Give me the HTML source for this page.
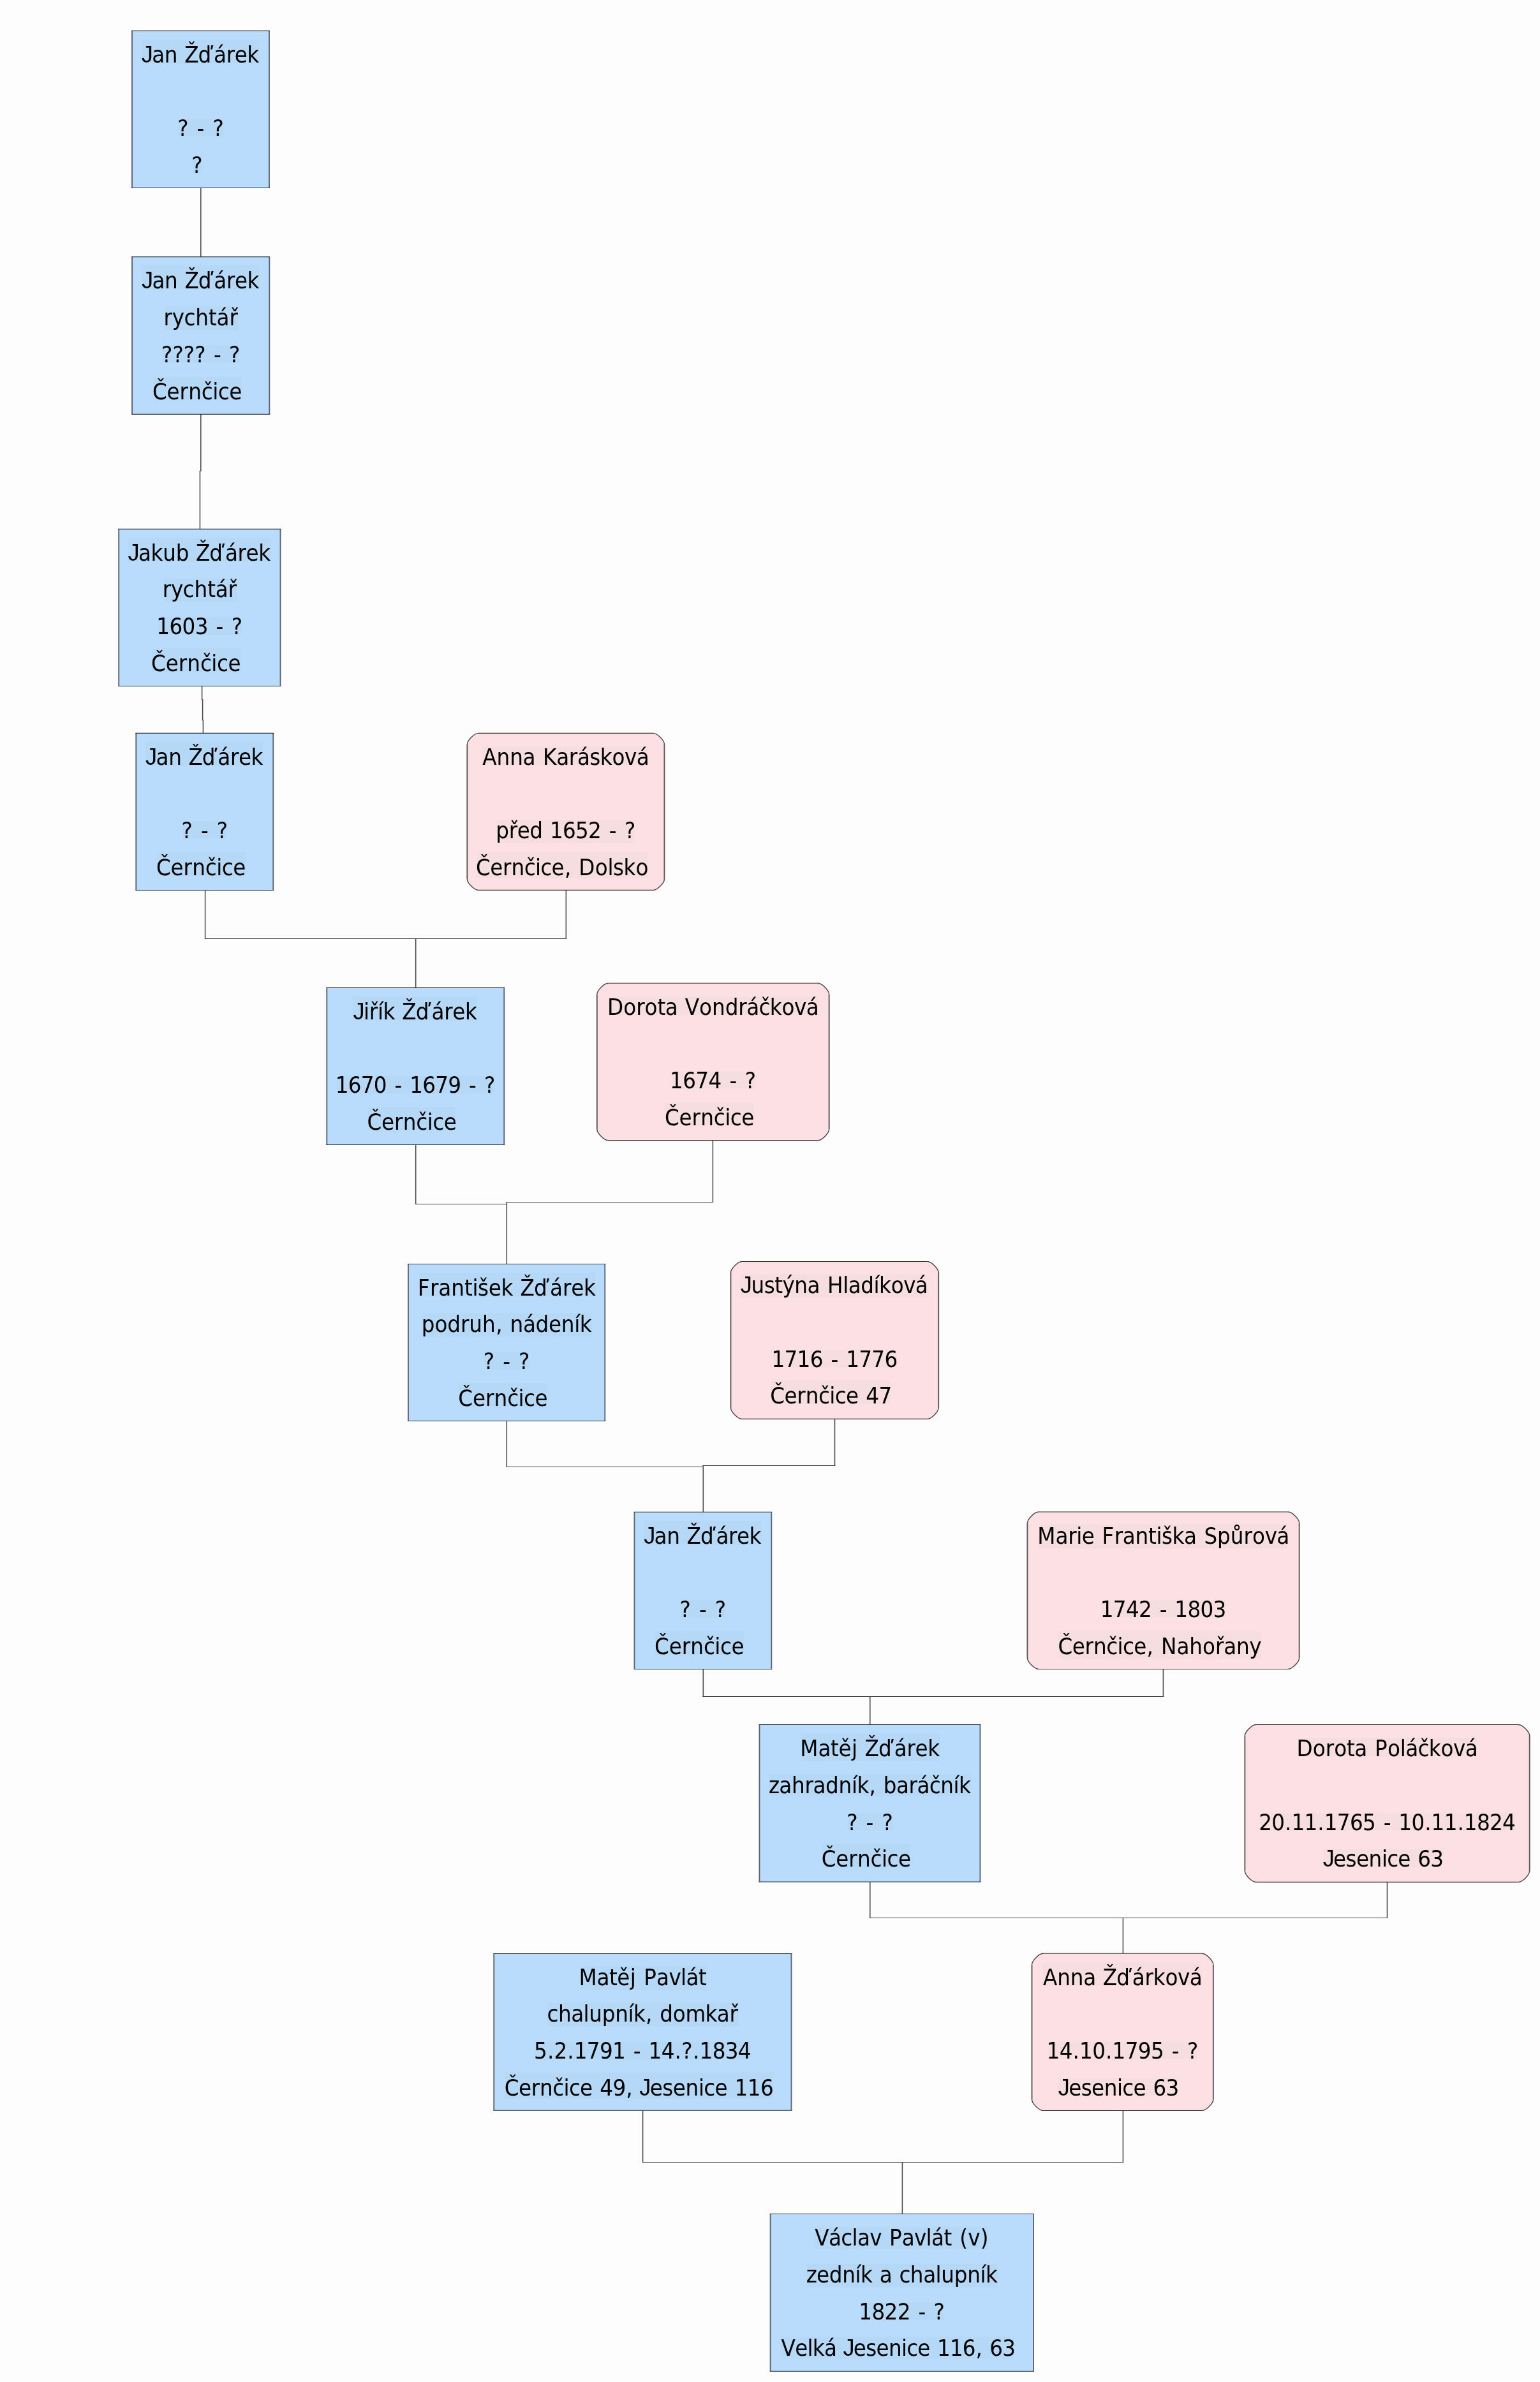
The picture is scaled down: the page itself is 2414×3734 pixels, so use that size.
<!DOCTYPE html>
<html lang="cs">
<head>
<meta charset="utf-8">
<title>Rodokmen – Žďárek / Pavlát</title>
<style>
html,body{margin:0;padding:0;background:#fdfdfd;}
body{width:2414px;height:3734px;overflow:hidden;}
svg{display:block;will-change:transform;}
text{font-family:"DejaVu Sans Condensed","DejaVu Sans","Liberation Sans",sans-serif;font-stretch:condensed;font-size:36.3px;fill:#000;}
.j{font-family:"Liberation Sans",sans-serif;font-stretch:normal;}
line,path.a{fill:none;stroke-linecap:butt;}
.bh{stroke:#2b323c;stroke-width:1.1;}
.bv{stroke:#5c6575;stroke-width:1.9;}
.ph{stroke:#3a2f32;stroke-width:1.1;}
.pv{stroke:#5f5658;stroke-width:1.9;}
.ch{stroke:#383838;stroke-width:1.1;}
.cv{stroke:#4a4a4a;stroke-width:1.55;}
.a{stroke:#4a4144;stroke-width:1.4;}
.m{fill:#badcfc;}
.f{fill:#fde0e4;}
.sm{fill:#b4d8f5;}
.sf{fill:#f6dddf;}
</style>
</head>
<body>
<svg width="2414" height="3734" viewBox="0 0 2414 3734">
<rect x="0" y="0" width="2414" height="3734" fill="#fdfdfd"/>
<g>
<line class="cv" x1="314.80" y1="294.60" x2="314.80" y2="402.60"/>
<line class="cv" x1="314.80" y1="649.40" x2="314.80" y2="738.75"/>
<line class="cv" x1="313.45" y1="737.65" x2="313.45" y2="829.20"/>
<line class="cv" x1="316.60" y1="1075.50" x2="316.60" y2="1097.25"/>
<line class="cv" x1="317.60" y1="1096.15" x2="317.60" y2="1129.35"/>
<line class="cv" x1="318.40" y1="1128.25" x2="318.40" y2="1149.10"/>
<line class="cv" x1="321.60" y1="1395.30" x2="321.60" y2="1471.95"/>
<line class="ch" x1="320.83" y1="1471.50" x2="888.07" y2="1471.50"/>
<line class="cv" x1="887.30" y1="1471.95" x2="887.30" y2="1395.30"/>
<line class="cv" x1="651.70" y1="1471.40" x2="651.70" y2="1548.30"/>
<line class="cv" x1="651.70" y1="1794.50" x2="651.70" y2="1887.65"/>
<line class="ch" x1="650.93" y1="1887.50" x2="794.30" y2="1887.50"/>
<line class="cv" x1="1117.40" y1="1787.40" x2="1117.40" y2="1885.05"/>
<line class="ch" x1="1118.18" y1="1884.50" x2="793.52" y2="1884.50"/>
<line class="cv" x1="794.30" y1="1883.95" x2="794.30" y2="1981.50"/>
<line class="cv" x1="794.30" y1="2227.50" x2="794.30" y2="2299.55"/>
<line class="ch" x1="793.52" y1="2299.50" x2="1102.30" y2="2299.50"/>
<line class="cv" x1="1308.50" y1="2224.00" x2="1308.50" y2="2297.85"/>
<line class="ch" x1="1309.28" y1="2297.50" x2="1101.52" y2="2297.50"/>
<line class="cv" x1="1102.30" y1="2296.75" x2="1102.30" y2="2370.00"/>
<line class="cv" x1="1102.30" y1="2616.40" x2="1102.30" y2="2660.05"/>
<line class="ch" x1="1101.52" y1="2659.50" x2="1824.18" y2="2659.50"/>
<line class="cv" x1="1823.40" y1="2660.05" x2="1823.40" y2="2616.20"/>
<line class="cv" x1="1363.80" y1="2659.50" x2="1363.80" y2="2703.50"/>
<line class="cv" x1="1363.80" y1="2949.80" x2="1363.80" y2="3006.75"/>
<line class="ch" x1="1363.02" y1="3006.50" x2="2175.28" y2="3006.50"/>
<line class="cv" x1="2174.50" y1="3006.75" x2="2174.50" y2="2950.40"/>
<line class="cv" x1="1760.40" y1="3006.20" x2="1760.40" y2="3062.00"/>
<line class="cv" x1="1007.60" y1="3308.40" x2="1007.60" y2="3389.75"/>
<line class="ch" x1="1006.83" y1="3389.50" x2="1761.18" y2="3389.50"/>
<line class="cv" x1="1760.40" y1="3389.75" x2="1760.40" y2="3308.60"/>
<line class="cv" x1="1414.40" y1="3389.20" x2="1414.40" y2="3470.80"/>
</g>
<g>
<rect class="m" x="207.00" y="48.40" width="215.00" height="246.10"/>
<rect class="sm" x="222.4" y="62.3" width="184.2" height="37.2"/>
<rect class="sm" x="280.4" y="186.5" width="69.2" height="27.0"/>
<rect class="sm" x="302.4" y="244.5" width="13.2" height="27.0"/>
<line class="bv" x1="207.00" y1="48.40" x2="207.00" y2="294.50"/>
<line class="bv" x1="422.00" y1="48.40" x2="422.00" y2="294.50"/>
<line class="bh" x1="206.05" y1="48.40" x2="422.95" y2="48.40"/>
<line class="bh" x1="206.05" y1="294.50" x2="422.95" y2="294.50"/>
<text y="97.91" x="221.77 238.23 257.87 279.12 289.21 310.55 335.06 354.69 367.71 387.20"><tspan class="j">J</tspan>an Žďárek</text>
<text y="213.33" x="278.24 296.57 308.61 322.06 333.42">? - ?</text>
<text y="271.00" x="300.23">?</text>
</g>
<g>
<rect class="m" x="207.05" y="402.65" width="215.30" height="246.75"/>
<rect class="sm" x="222.4" y="416.3" width="184.2" height="37.2"/>
<rect class="sm" x="258.4" y="480.5" width="115.2" height="37.0"/>
<rect class="sm" x="254.4" y="541.5" width="120.2" height="27.0"/>
<rect class="sm" x="240.4" y="590.3" width="138.2" height="37.2"/>
<line class="bv" x1="207.05" y1="402.65" x2="207.05" y2="649.40"/>
<line class="bv" x1="422.35" y1="402.65" x2="422.35" y2="649.40"/>
<line class="bh" x1="206.10" y1="402.65" x2="423.30" y2="402.65"/>
<line class="bh" x1="206.10" y1="649.40" x2="423.30" y2="649.40"/>
<text y="452.23" x="221.97 238.43 258.07 279.32 289.41 310.75 335.26 354.89 367.91 387.40"><tspan class="j">J</tspan>an Žďárek</text>
<text y="509.71" x="256.54 269.72 288.44 306.23 326.96 339.50 359.44">rychtář</text>
<text y="567.80" x="252.97 270.40 287.84 305.28 323.24 334.96 348.11 359.10">???? - ?</text>
<text y="625.54" x="238.95 261.52 281.54 295.17 315.73 333.15 341.70 359.21">Černčice</text>
</g>
<g>
<rect class="m" x="186.20" y="829.40" width="253.35" height="246.10"/>
<rect class="sm" x="200.4" y="843.3" width="224.2" height="37.2"/>
<rect class="sm" x="257.4" y="906.5" width="114.2" height="37.0"/>
<rect class="sm" x="248.4" y="967.5" width="130.2" height="28.0"/>
<rect class="sm" x="238.4" y="1016.3" width="138.2" height="37.2"/>
<line class="bv" x1="186.20" y1="829.40" x2="186.20" y2="1075.50"/>
<line class="bv" x1="439.55" y1="829.40" x2="439.55" y2="1075.50"/>
<line class="bh" x1="185.25" y1="829.40" x2="440.50" y2="829.40"/>
<line class="bh" x1="185.25" y1="1075.50" x2="440.50" y2="1075.50"/>
<text y="878.91" x="200.59 217.07 236.53 255.16 275.68 296.88 307.00 328.37 352.91 372.57 385.61 405.13"><tspan class="j">J</tspan>akub Žďárek</text>
<text y="936.32" x="254.71 267.90 286.61 304.40 325.13 337.68 357.62">rychtář</text>
<text y="994.33" x="245.31 265.45 285.58 305.72 326.76 338.51 351.68 362.71">1603 - ?</text>
<text y="1052.00" x="237.12 259.69 279.71 293.35 313.90 331.33 339.88 357.38">Černčice</text>
</g>
<g>
<rect class="m" x="213.30" y="1149.40" width="214.95" height="246.10"/>
<rect class="sm" x="228.4" y="1163.3" width="184.2" height="37.2"/>
<rect class="sm" x="286.4" y="1287.5" width="69.2" height="27.0"/>
<rect class="sm" x="246.4" y="1336.3" width="138.2" height="37.2"/>
<line class="bv" x1="213.30" y1="1149.40" x2="213.30" y2="1395.50"/>
<line class="bv" x1="428.25" y1="1149.40" x2="428.25" y2="1395.50"/>
<line class="bh" x1="212.35" y1="1149.40" x2="429.20" y2="1149.40"/>
<line class="bh" x1="212.35" y1="1395.50" x2="429.20" y2="1395.50"/>
<text y="1198.91" x="228.05 244.50 264.15 285.39 295.49 316.83 341.34 360.97 373.98 393.48"><tspan class="j">J</tspan>an Žďárek</text>
<text y="1314.33" x="284.52 302.84 314.88 328.34 339.70">? - ?</text>
<text y="1372.00" x="245.02 267.59 287.61 301.25 321.80 339.23 347.78 365.28">Černčice</text>
</g>
<g>
<path class="f" d="M732.35 1166.85C732.35 1160.55 743.55 1149.35 749.85 1149.35H1023.95C1030.25 1149.35 1041.45 1160.55 1041.45 1166.85V1377.90C1041.45 1384.20 1030.25 1395.40 1023.95 1395.40H749.85C743.55 1395.40 732.35 1384.20 732.35 1377.90Z"/>
<rect class="sf" x="756.4" y="1170.5" width="259.2" height="29.0"/>
<rect class="sf" x="779.4" y="1285.5" width="215.2" height="36.0"/>
<rect class="sf" x="747.4" y="1336.3" width="268.2" height="40.2"/>
<line class="pv" x1="732.35" y1="1166.85" x2="732.35" y2="1377.90"/>
<line class="pv" x1="1041.45" y1="1166.85" x2="1041.45" y2="1377.90"/>
<line class="ph" x1="749.85" y1="1149.35" x2="1023.95" y2="1149.35"/>
<line class="ph" x1="749.85" y1="1395.40" x2="1023.95" y2="1395.40"/>
<path class="a" d="M732.35 1166.85C732.35 1160.55 743.55 1149.35 749.85 1149.35M1023.95 1149.35C1030.25 1149.35 1041.45 1160.55 1041.45 1166.85M1041.45 1377.90C1041.45 1384.20 1030.25 1395.40 1023.95 1395.40M749.85 1395.40C743.55 1395.40 732.35 1384.20 732.35 1377.90"/>
<text y="1198.86" x="756.36 778.57 799.18 819.54 839.84 850.96 872.22 891.87 904.92 924.35 940.84 959.54 979.10 997.65">Anna Karásková</text>
<text y="1314.27" x="777.27 797.72 810.67 830.18 851.29 861.88 881.96 902.03 922.11 943.10 954.82 967.96 978.94">před 1652 - ?</text>
<text y="1371.92" x="745.89 768.19 787.99 801.40 821.71 838.97 847.35 864.62 884.89 896.33 907.35 932.63 952.42 960.99 977.58 996.39">Černčice, Dolsko</text>
</g>
<g>
<rect class="m" x="512.30" y="1548.40" width="277.95" height="246.10"/>
<rect class="sm" x="553.4" y="1562.3" width="194.2" height="37.2"/>
<rect class="sm" x="528.4" y="1686.5" width="246.2" height="28.0"/>
<rect class="sm" x="576.4" y="1735.3" width="138.2" height="37.2"/>
<line class="bv" x1="512.30" y1="1548.40" x2="512.30" y2="1794.50"/>
<line class="bv" x1="790.25" y1="1548.40" x2="790.25" y2="1794.50"/>
<line class="bh" x1="511.35" y1="1548.40" x2="791.20" y2="1548.40"/>
<line class="bh" x1="511.35" y1="1794.50" x2="791.20" y2="1794.50"/>
<text y="1597.91" x="553.51 570.07 578.86 592.00 600.61 619.98 630.21 651.72 676.43 696.20 709.35 729.00"><tspan class="j">J</tspan>iřík Žďárek</text>
<text y="1713.33" x="525.70 545.75 565.80 585.85 606.82 618.52 631.64 642.21 662.26 682.31 702.36 723.33 735.03 748.15 759.12">1670 - 1679 - ?</text>
<text y="1771.00" x="575.52 598.09 618.11 631.75 652.30 669.73 678.28 695.78">Černčice</text>
</g>
<g>
<path class="f" d="M935.80 1558.80C935.80 1552.50 947.00 1541.30 953.30 1541.30H1282.15C1288.45 1541.30 1299.65 1552.50 1299.65 1558.80V1770.10C1299.65 1776.40 1288.45 1787.60 1282.15 1787.60H953.30C947.00 1787.60 935.80 1776.40 935.80 1770.10Z"/>
<rect class="sf" x="954.4" y="1562.5" width="327.2" height="29.0"/>
<rect class="sf" x="1053.4" y="1679.5" width="130.2" height="27.0"/>
<rect class="sf" x="1043.4" y="1728.3" width="138.2" height="36.2"/>
<line class="pv" x1="935.80" y1="1558.80" x2="935.80" y2="1770.10"/>
<line class="pv" x1="1299.65" y1="1558.80" x2="1299.65" y2="1770.10"/>
<line class="ph" x1="953.30" y1="1541.30" x2="1282.15" y2="1541.30"/>
<line class="ph" x1="953.30" y1="1787.60" x2="1282.15" y2="1787.60"/>
<path class="a" d="M935.80 1558.80C935.80 1552.50 947.00 1541.30 953.30 1541.30M1282.15 1541.30C1288.45 1541.30 1299.65 1552.50 1299.65 1558.80M1299.65 1770.10C1299.65 1776.40 1288.45 1787.60 1282.15 1787.60M953.30 1787.60C947.00 1787.60 935.80 1776.40 935.80 1770.10"/>
<text y="1590.83" x="952.02 977.19 997.17 1010.60 1030.41 1042.69 1063.01 1073.86 1096.12 1116.12 1136.65 1157.20 1170.27 1189.54 1206.80 1225.52 1245.10 1263.68">Dorota Vondráčková</text>
<text y="1706.30" x="1049.96 1070.17 1090.37 1110.58 1131.67 1143.47 1156.69 1167.77">1674 - ?</text>
<text y="1763.99" x="1041.97 1064.54 1084.56 1098.20 1118.75 1136.18 1144.73 1162.23">Černčice</text>
</g>
<g>
<rect class="m" x="639.95" y="1981.50" width="308.30" height="246.00"/>
<rect class="sm" x="657.4" y="1995.3" width="276.2" height="37.2"/>
<rect class="sm" x="663.4" y="2058.5" width="264.2" height="37.0"/>
<rect class="sm" x="759.4" y="2119.5" width="69.2" height="27.0"/>
<rect class="sm" x="719.4" y="2168.3" width="138.2" height="37.2"/>
<line class="bv" x1="639.95" y1="1981.50" x2="639.95" y2="2227.50"/>
<line class="bv" x1="948.25" y1="1981.50" x2="948.25" y2="2227.50"/>
<line class="bh" x1="639.00" y1="1981.50" x2="949.20" y2="1981.50"/>
<line class="bh" x1="639.00" y1="2227.50" x2="949.20" y2="2227.50"/>
<text y="2031.00" x="654.75 673.97 687.28 707.26 727.95 740.38 749.07 765.77 785.58 805.07 815.44 837.12 862.03 881.94 895.22 915.03">František Žďárek</text>
<text y="2088.40" x="660.70 681.41 701.35 721.94 735.32 756.01 777.14 788.56 799.55 819.97 839.60 859.93 879.72 900.13 908.69">podruh, nádeník</text>
<text y="2146.40" x="757.84 776.17 788.21 801.66 813.02">? - ?</text>
<text y="2204.05" x="718.35 740.92 760.94 774.57 795.13 812.55 821.10 838.61">Černčice</text>
</g>
<g>
<path class="f" d="M1145.45 1995.00C1145.45 1988.70 1156.65 1977.50 1162.95 1977.50H1453.70C1460.00 1977.50 1471.20 1988.70 1471.20 1995.00V2206.85C1471.20 2213.15 1460.00 2224.35 1453.70 2224.35H1162.95C1156.65 2224.35 1145.45 2213.15 1145.45 2206.85Z"/>
<rect class="sf" x="1161.4" y="1997.5" width="291.2" height="37.0"/>
<rect class="sf" x="1212.4" y="2116.5" width="193.2" height="27.0"/>
<rect class="sf" x="1208.4" y="2164.3" width="187.2" height="36.2"/>
<line class="pv" x1="1145.45" y1="1995.00" x2="1145.45" y2="2206.85"/>
<line class="pv" x1="1471.20" y1="1995.00" x2="1471.20" y2="2206.85"/>
<line class="ph" x1="1162.95" y1="1977.50" x2="1453.70" y2="1977.50"/>
<line class="ph" x1="1162.95" y1="2224.35" x2="1453.70" y2="2224.35"/>
<path class="a" d="M1145.45 1995.00C1145.45 1988.70 1156.65 1977.50 1162.95 1977.50M1453.70 1977.50C1460.00 1977.50 1471.20 1988.70 1471.20 1995.00M1471.20 2206.85C1471.20 2213.15 1460.00 2224.35 1453.70 2224.35M1162.95 2224.35C1156.65 2224.35 1145.45 2213.15 1145.45 2206.85"/>
<text y="2027.09" x="1160.75 1177.46 1197.83 1214.33 1226.42 1245.21 1265.53 1285.82 1296.95 1321.37 1329.81 1349.34 1369.60 1378.09 1396.76 1416.30 1434.83"><tspan class="j">J</tspan>ustýna Hladíková</text>
<text y="2142.68" x="1209.44 1229.53 1249.62 1269.70 1290.71 1302.43 1315.57 1326.17 1346.26 1366.35 1386.43">1716 - 1776</text>
<text y="2200.43" x="1207.21 1229.51 1249.32 1262.73 1283.04 1300.31 1308.69 1325.96 1346.41 1357.17 1377.47">Černčice 47</text>
</g>
<g>
<rect class="m" x="994.45" y="2370.30" width="214.85" height="246.20"/>
<rect class="sm" x="1009.4" y="2384.3" width="184.2" height="37.2"/>
<rect class="sm" x="1067.4" y="2508.5" width="69.2" height="27.0"/>
<rect class="sm" x="1027.4" y="2557.3" width="138.2" height="37.2"/>
<line class="bv" x1="994.45" y1="2370.30" x2="994.45" y2="2616.50"/>
<line class="bv" x1="1209.30" y1="2370.30" x2="1209.30" y2="2616.50"/>
<line class="bh" x1="993.50" y1="2370.30" x2="1210.25" y2="2370.30"/>
<line class="bh" x1="993.50" y1="2616.50" x2="1210.25" y2="2616.50"/>
<text y="2419.82" x="1009.15 1025.60 1045.25 1066.49 1076.59 1097.93 1122.44 1142.07 1155.08 1174.58"><tspan class="j">J</tspan>an Žďárek</text>
<text y="2535.27" x="1065.62 1083.94 1095.98 1109.44 1120.80">? - ?</text>
<text y="2592.94" x="1026.12 1048.69 1068.71 1082.35 1102.90 1120.33 1128.88 1146.38">Černčice</text>
</g>
<g>
<path class="f" d="M1610.45 2387.50C1610.45 2381.20 1621.65 2370.00 1627.95 2370.00H2019.15C2025.45 2370.00 2036.65 2381.20 2036.65 2387.50V2599.00C2036.65 2605.30 2025.45 2616.50 2019.15 2616.50H1627.95C1621.65 2616.50 1610.45 2605.30 1610.45 2599.00Z"/>
<rect class="sf" x="1628.4" y="2389.5" width="390.2" height="38.0"/>
<rect class="sf" x="1727.4" y="2508.5" width="193.2" height="27.0"/>
<rect class="sf" x="1659.4" y="2557.3" width="317.2" height="43.2"/>
<line class="pv" x1="1610.45" y1="2387.50" x2="1610.45" y2="2599.00"/>
<line class="pv" x1="2036.65" y1="2387.50" x2="2036.65" y2="2599.00"/>
<line class="ph" x1="1627.95" y1="2370.00" x2="2019.15" y2="2370.00"/>
<line class="ph" x1="1627.95" y1="2616.50" x2="2019.15" y2="2616.50"/>
<path class="a" d="M1610.45 2387.50C1610.45 2381.20 1621.65 2370.00 1627.95 2370.00M2019.15 2370.00C2025.45 2370.00 2036.65 2381.20 2036.65 2387.50M2036.65 2599.00C2036.65 2605.30 2025.45 2616.50 2019.15 2616.50M1627.95 2616.50C1621.65 2616.50 1610.45 2605.30 1610.45 2599.00"/>
<text y="2419.55" x="1626.24 1654.41 1674.16 1687.28 1695.81 1716.27 1727.56 1746.63 1759.78 1779.57 1800.10 1812.43 1821.01 1837.61 1856.08 1876.48 1887.47 1908.10 1928.77 1949.48 1962.99 1982.67 2001.34">Marie Františka Spůrová</text>
<text y="2535.07" x="1724.77 1744.83 1764.90 1784.96 1805.95 1817.66 1830.79 1841.37 1861.43 1881.49 1901.56">1742 - 1803</text>
<text y="2592.78" x="1658.43 1680.73 1700.53 1713.95 1734.26 1751.52 1759.90 1777.17 1797.44 1808.88 1820.06 1844.42 1864.20 1885.02 1905.08 1918.22 1938.00 1958.31">Černčice, Nahořany</text>
</g>
<g>
<rect class="m" x="1190.50" y="2703.50" width="345.95" height="246.56"/>
<rect class="sm" x="1256.4" y="2717.3" width="217.2" height="43.2"/>
<rect class="sm" x="1205.4" y="2781.5" width="316.2" height="34.0"/>
<rect class="sm" x="1329.4" y="2842.5" width="69.2" height="27.0"/>
<rect class="sm" x="1289.4" y="2890.3" width="137.2" height="37.2"/>
<line class="bv" x1="1190.50" y1="2703.50" x2="1190.50" y2="2950.06"/>
<line class="bv" x1="1536.45" y1="2703.50" x2="1536.45" y2="2950.06"/>
<line class="bh" x1="1189.55" y1="2703.50" x2="1537.40" y2="2703.50"/>
<line class="bh" x1="1189.55" y1="2950.06" x2="1537.40" y2="2950.06"/>
<text y="2753.06" x="1254.34 1282.50 1302.07 1314.39 1334.92 1345.32 1355.52 1377.00 1401.66 1421.40 1434.52 1454.14">Matěj Žďárek</text>
<text y="2810.52" x="1204.88 1221.32 1240.96 1261.54 1274.57 1294.10 1314.62 1334.95 1343.45 1362.50 1373.86 1384.66 1404.91 1424.54 1437.57 1456.79 1474.22 1494.55 1503.05">zahradník, baráčník</text>
<text y="2868.59" x="1327.22 1345.54 1357.58 1371.04 1382.40">? - ?</text>
<text y="2926.30" x="1287.72 1310.29 1330.31 1343.95 1364.50 1381.93 1390.48 1407.98">Černčice</text>
</g>
<g>
<path class="f" d="M1951.35 2721.00C1951.35 2714.70 1962.55 2703.50 1968.85 2703.50H2380.20C2386.50 2703.50 2397.70 2714.70 2397.70 2721.00V2932.85C2397.70 2939.15 2386.50 2950.35 2380.20 2950.35H1968.85C1962.55 2950.35 1951.35 2939.15 1951.35 2932.85Z"/>
<rect class="sf" x="2035.4" y="2724.5" width="279.2" height="29.0"/>
<rect class="sf" x="1975.4" y="2842.5" width="399.2" height="27.0"/>
<rect class="sf" x="2074.4" y="2898.5" width="186.2" height="28.0"/>
<line class="pv" x1="1951.35" y1="2721.00" x2="1951.35" y2="2932.85"/>
<line class="pv" x1="2397.70" y1="2721.00" x2="2397.70" y2="2932.85"/>
<line class="ph" x1="1968.85" y1="2703.50" x2="2380.20" y2="2703.50"/>
<line class="ph" x1="1968.85" y1="2950.35" x2="2380.20" y2="2950.35"/>
<path class="a" d="M1951.35 2721.00C1951.35 2714.70 1962.55 2703.50 1968.85 2703.50M2380.20 2703.50C2386.50 2703.50 2397.70 2714.70 2397.70 2721.00M2397.70 2932.85C2397.70 2939.15 2386.50 2950.35 2380.20 2950.35M1968.85 2950.35C1962.55 2950.35 1951.35 2939.15 1951.35 2932.85"/>
<text y="2753.09" x="2032.61 2057.79 2077.77 2091.20 2111.02 2123.30 2143.62 2154.95 2175.05 2194.78 2203.26 2222.53 2239.79 2258.52 2278.11 2296.69">Dorota Poláčková</text>
<text y="2868.68" x="1973.24 1993.30 2014.10 2024.49 2044.56 2065.36 2075.75 2095.81 2115.88 2135.94 2156.92 2168.63 2181.76 2192.34 2212.40 2233.20 2243.60 2263.66 2284.46 2294.85 2314.92 2334.98 2355.04">20.11.1765 - 10.11.1824</text>
<text y="2926.43" x="2073.65 2090.05 2109.51 2125.88 2145.56 2165.88 2174.16 2191.28 2211.61 2222.24 2242.36"><tspan class="j">J</tspan>esenice 63</text>
</g>
<g>
<rect class="m" x="774.25" y="3062.50" width="466.25" height="245.70"/>
<rect class="sm" x="910.4" y="3082.5" width="197.2" height="37.0"/>
<rect class="sm" x="858.4" y="3139.5" width="299.2" height="37.0"/>
<rect class="sm" x="839.4" y="3200.5" width="337.2" height="28.0"/>
<rect class="sm" x="792.4" y="3249.3" width="419.2" height="40.2"/>
<line class="bv" x1="774.25" y1="3062.50" x2="774.25" y2="3308.20"/>
<line class="bv" x1="1240.50" y1="3062.50" x2="1240.50" y2="3308.20"/>
<line class="bh" x1="773.30" y1="3062.50" x2="1241.45" y2="3062.50"/>
<line class="bh" x1="773.30" y1="3308.20" x2="1241.45" y2="3308.20"/>
<text y="3111.97" x="907.41 935.47 954.97 967.23 987.69 998.05 1009.37 1029.11 1048.38 1066.95 1075.43 1094.93">Matěj Pavlát</text>
<text y="3169.33" x="857.46 874.88 895.20 914.57 923.27 943.73 964.24 984.56 993.05 1012.09 1023.45 1034.24 1054.83 1074.41 1105.53 1123.85 1143.46">chalupník, domkař</text>
<text y="3227.30" x="837.11 857.94 868.38 889.22 899.65 919.76 939.88 959.99 981.01 992.75 1005.91 1016.53 1036.64 1057.48 1068.31 1086.10 1096.54 1116.65 1136.76 1156.87">5.2.1791 - 14.?.1834</text>
<text y="3284.91" x="790.81 813.03 832.77 846.11 866.35 883.56 891.89 909.09 929.48 940.18 960.39 981.30 992.70 1002.32 1018.80 1038.34 1054.78 1074.54 1094.92 1103.26 1120.45 1140.84 1151.54 1171.75 1191.96">Černčice 49, <tspan class="j">J</tspan>esenice 116</text>
</g>
<g>
<path class="f" d="M1617.50 3079.80C1617.50 3073.50 1628.70 3062.30 1635.00 3062.30H1884.35C1890.65 3062.30 1901.85 3073.50 1901.85 3079.80V3291.00C1901.85 3297.30 1890.65 3308.50 1884.35 3308.50H1635.00C1628.70 3308.50 1617.50 3297.30 1617.50 3291.00Z"/>
<rect class="sf" x="1634.4" y="3076.3" width="248.2" height="36.2"/>
<rect class="sf" x="1643.4" y="3200.5" width="233.2" height="27.0"/>
<rect class="sf" x="1659.4" y="3257.5" width="187.2" height="28.0"/>
<line class="pv" x1="1617.50" y1="3079.80" x2="1617.50" y2="3291.00"/>
<line class="pv" x1="1901.85" y1="3079.80" x2="1901.85" y2="3291.00"/>
<line class="ph" x1="1635.00" y1="3062.30" x2="1884.35" y2="3062.30"/>
<line class="ph" x1="1635.00" y1="3308.50" x2="1884.35" y2="3308.50"/>
<path class="a" d="M1617.50 3079.80C1617.50 3073.50 1628.70 3062.30 1635.00 3062.30M1884.35 3062.30C1890.65 3062.30 1901.85 3073.50 1901.85 3079.80M1901.85 3291.00C1901.85 3297.30 1890.65 3308.50 1884.35 3308.50M1635.00 3308.50C1628.70 3308.50 1617.50 3297.30 1617.50 3291.00"/>
<text y="3111.82" x="1634.90 1657.17 1677.86 1698.28 1718.63 1728.79 1750.21 1774.82 1794.52 1807.67 1826.44 1846.06 1864.67">Anna Žďárková</text>
<text y="3227.27" x="1640.61 1660.75 1681.62 1692.08 1712.22 1733.09 1743.55 1763.70 1783.84 1803.99 1825.04 1836.80 1849.98 1861.02">14.10.1795 - ?</text>
<text y="3284.94" x="1658.80 1675.20 1694.66 1711.03 1730.71 1751.03 1759.31 1776.43 1796.76 1807.39 1827.51"><tspan class="j">J</tspan>esenice 63</text>
</g>
<g>
<rect class="m" x="1207.65" y="3470.50" width="412.35" height="246.80"/>
<rect class="sm" x="1277.4" y="3490.5" width="270.2" height="35.0"/>
<rect class="sm" x="1264.4" y="3548.5" width="299.2" height="37.0"/>
<rect class="sm" x="1349.4" y="3609.5" width="130.2" height="27.0"/>
<rect class="sm" x="1224.4" y="3663.5" width="365.2" height="34.0"/>
<line class="bv" x1="1207.65" y1="3470.50" x2="1207.65" y2="3717.30"/>
<line class="bv" x1="1620.00" y1="3470.50" x2="1620.00" y2="3717.30"/>
<line class="bh" x1="1206.70" y1="3470.50" x2="1620.95" y2="3470.50"/>
<line class="bh" x1="1206.70" y1="3717.30" x2="1620.95" y2="3717.30"/>
<text y="3520.08" x="1277.20 1299.09 1318.34 1335.53 1343.99 1363.24 1382.70 1394.00 1413.72 1432.97 1451.53 1459.99 1479.47 1492.64 1504.31 1517.30 1536.87">Václav Pavlát (v)</text>
<text y="3577.57" x="1263.72 1280.11 1299.66 1320.14 1340.45 1348.93 1368.14 1378.75 1399.01 1409.47 1426.87 1447.16 1466.52 1475.20 1495.65 1516.13 1536.44 1544.91">zedník a chalupník</text>
<text y="3635.67" x="1346.31 1366.43 1386.54 1406.66 1427.69 1439.43 1452.60 1463.61">1822 - ?</text>
<text y="3693.41" x="1224.51 1246.15 1265.47 1273.84 1291.99 1312.13 1321.59 1337.85 1357.16 1373.39 1392.90 1413.10 1421.28 1438.25 1458.45 1468.95 1488.91 1508.87 1529.60 1540.86 1551.36 1571.32">Velká <tspan class="j">J</tspan>esenice 116, 63</text>
</g>
</svg>
</body>
</html>
